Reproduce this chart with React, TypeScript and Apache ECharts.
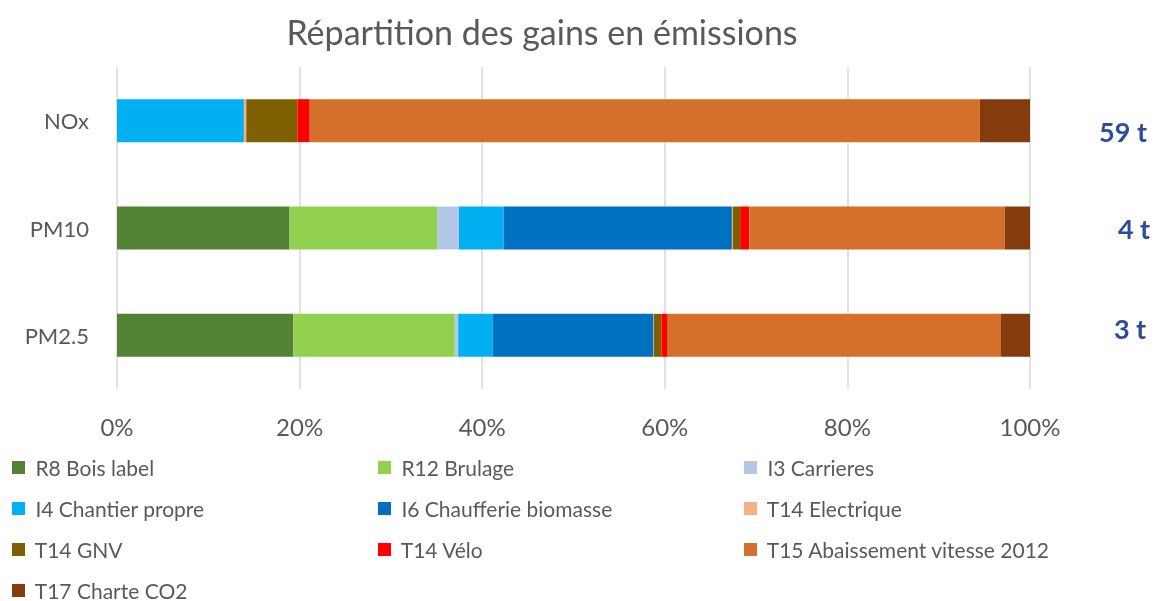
import React, { useEffect, useRef } from "react";
import * as echarts from "echarts";

const categories = ["NOx", "PM10", "PM2.5"];
const seriesNames = [
  "R8 Bois label",
  "R12 Brulage",
  "I3 Carrieres",
  "I4 Chantier propre",
  "I6 Chaufferie biomasse",
  "T14 Electrique",
  "T14 GNV",
  "T14 Vélo",
  "T15 Abaissement vitesse 2012",
  "T17 Charte CO2",
];
const seriesColors = [
  "#548235",
  "#92D050",
  "#B4C7E7",
  "#00B0F0",
  "#0070C0",
  "#F4B183",
  "#7F6000",
  "#FF0000",
  "#D46F2C",
  "#843C0C",
];
// values in % per category [NOx, PM10, PM2.5]
const r8 = [0, 18.9, 19.3];
const r12 = [0, 16.2, 17.7];
const i3 = [0, 2.35, 0.37];
const i4 = [13.9, 4.9, 3.8];
const i6 = [0, 25.0, 17.6];
const t14Elec = [0.26, 0.1, 0.05];
const t14Gnv = [5.6, 0.8, 0.8];
const t14Velo = [1.35, 1.0, 0.7];
const t15 = [73.4, 28.0, 36.5];
const t17 = [5.5, 2.8, 3.2];
const seriesValues = [r8, r12, i3, i4, i6, t14Elec, t14Gnv, t14Velo, t15, t17];
const totals = ["59 t", "4 t", "3 t"];
const xTicks = [0, 20, 40, 60, 80, 100];

const FONT = "Lato, 'Noto Sans', sans-serif";

export default function App() {
  const ref = useRef<HTMLDivElement>(null);
  useEffect(() => {
    if (!ref.current) return;
    const chart = echarts.init(ref.current, undefined, { renderer: "svg" });
    const totalY = [131, 228, 328];
    const totalX = [1123, 1134, 1130];
    chart.setOption({
      animation: false,
      textStyle: { fontFamily: FONT },
      graphic: [
        {
          type: "text",
          x: 542,
          y: 31,
          style: {
            text: "Répartition des gains en émissions",
            fill: "#595959",
            font: `normal 34px ${FONT}`,
            textAlign: "center",
            textVerticalAlign: "middle",
          },
        },
        ...totals.map((t, i) => ({
          type: "text",
          x: totalX[i],
          y: totalY[i],
          style: {
            text: t,
            fill: "#2F4B9B",
            font: `bold 27px ${FONT}`,
            textAlign: "center",
            textVerticalAlign: "middle",
          },
        })),
      ],
      grid: { left: 117, right: 131, top: 67, bottom: 212 },
      xAxis: {
        type: "value",
        min: xTicks[0],
        max: xTicks[xTicks.length - 1],
        interval: 20,
        axisLabel: {
          formatter: "{value}%",
          fontSize: 24,
          color: "#595959",
          margin: 25,
          fontFamily: FONT,
        },
        axisLine: { show: false },
        axisTick: { show: false },
        splitLine: { lineStyle: { color: "#D9D9D9", width: 1.5 } },
      },
      yAxis: {
        type: "category",
        inverse: true,
        data: categories,
        axisLine: { show: false },
        axisTick: { show: false },
        axisLabel: { fontSize: 22, color: "#595959", margin: 28, fontFamily: FONT },
      },
      legend: {
        left: 7,
        top: 452,
        width: 1120,
        itemWidth: 13,
        itemHeight: 13,
        itemGap: 20,
        icon: "rect",
        data: seriesNames,
        formatter: (name: string) => " " + name,
        textStyle: {
          fontSize: 21,
          color: "#595959",
          width: 328,
          lineHeight: 16,
          overflow: "truncate",
          fontFamily: FONT,
        },
      },
      series: seriesNames.map((name, k) => ({
        name,
        type: "bar",
        stack: "total",
        barCategoryGap: "60%",
        itemStyle: { color: seriesColors[k] },
        data: seriesValues[k],
      })),
    });
    return () => chart.dispose();
  }, []);
  return (
    <div
      ref={ref}
      style={{ position: "fixed", left: 0, top: 0, width: 1161, height: 601 }}
    />
  );
}
